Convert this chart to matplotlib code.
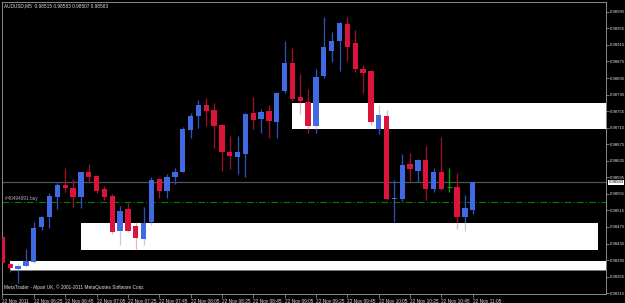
import matplotlib
matplotlib.use('Agg')
import numpy as np
import matplotlib.pyplot as plt
from matplotlib.patches import Rectangle

plt.rcParams['font.family'] = ['Liberation Sans', 'DejaVu Sans']

# AUDUSD M5, 22 Nov 2011 06:05 .. 11:05 (61 bars)
symbol = 'AUDUSD,M5'
opens = [0.98451, 0.98385, 0.98373, 0.98380, 0.98390, 0.98475, 0.98499, 0.98547, 0.98576, 0.98569,
         0.98547, 0.98609, 0.98598, 0.98567, 0.98550, 0.98465, 0.98518, 0.98477, 0.98446, 0.98487,
         0.98591, 0.98562, 0.98596, 0.98609, 0.98709, 0.98743, 0.98770, 0.98758, 0.98722, 0.98656,
         0.98644, 0.98651, 0.98751, 0.98736, 0.98756, 0.98729, 0.98804, 0.98872, 0.98789, 0.98777,
         0.98719, 0.98840, 0.98901, 0.98925, 0.98966, 0.98920, 0.98857, 0.98852, 0.98712, 0.98743,
         0.98543, 0.98543, 0.98627, 0.98611, 0.98637, 0.98567, 0.98609, 0.98572, 0.98572, 0.98499,
         0.98515]
highs = [0.98453, 0.98388, 0.98385, 0.98422, 0.98487, 0.98501, 0.98557, 0.98581, 0.98617, 0.98591,
         0.98609, 0.98627, 0.98601, 0.98574, 0.98555, 0.98525, 0.98533, 0.98487, 0.98523, 0.98596,
         0.98593, 0.98603, 0.98617, 0.98717, 0.98751, 0.98782, 0.98787, 0.98775, 0.98724, 0.98695,
         0.98695, 0.98751, 0.98789, 0.98760, 0.98770, 0.98801, 0.98925, 0.98908, 0.98845, 0.98809,
         0.98857, 0.98983, 0.98947, 0.98970, 0.98983, 0.98951, 0.98867, 0.98854, 0.98770, 0.98758,
         0.98588, 0.98651, 0.98654, 0.98639, 0.98671, 0.98617, 0.98693, 0.98617, 0.98605, 0.98552,
         0.98583]
lows = [0.98385, 0.98366, 0.98339, 0.98378, 0.98388, 0.98467, 0.98472, 0.98518, 0.98560, 0.98523,
        0.98521, 0.98581, 0.98557, 0.98540, 0.98458, 0.98431, 0.98462, 0.98422, 0.98431, 0.98480,
        0.98545, 0.98545, 0.98579, 0.98607, 0.98690, 0.98715, 0.98719, 0.98666, 0.98611, 0.98615,
        0.98603, 0.98596, 0.98712, 0.98702, 0.98690, 0.98690, 0.98799, 0.98780, 0.98748, 0.98702,
        0.98702, 0.98835, 0.98874, 0.98852, 0.98876, 0.98850, 0.98799, 0.98722, 0.98700, 0.98540,
        0.98487, 0.98538, 0.98586, 0.98584, 0.98540, 0.98560, 0.98565, 0.98560, 0.98470, 0.98465,
        0.98507]
closes = [0.98388, 0.98375, 0.98380, 0.98392, 0.98472, 0.98499, 0.98550, 0.98576, 0.98569, 0.98547,
          0.98607, 0.98596, 0.98562, 0.98547, 0.98463, 0.98513, 0.98465, 0.98448, 0.98484, 0.98588,
          0.98562, 0.98596, 0.98609, 0.98712, 0.98743, 0.98770, 0.98756, 0.98719, 0.98656, 0.98647,
          0.98656, 0.98748, 0.98734, 0.98753, 0.98731, 0.98799, 0.98872, 0.98784, 0.98780, 0.98719,
          0.98838, 0.98910, 0.98925, 0.98968, 0.98910, 0.98857, 0.98847, 0.98729, 0.98746, 0.98543,
          0.98545, 0.98625, 0.98615, 0.98637, 0.98567, 0.98607, 0.98567, 0.98572, 0.98499, 0.98521,
          0.98583]

time_labels = ['22 Nov 2011', '22 Nov 06:25', '22 Nov 06:45', '22 Nov 07:05', '22 Nov 07:25',
               '22 Nov 07:45', '22 Nov 08:05', '22 Nov 08:25', '22 Nov 08:45', '22 Nov 09:05',
               '22 Nov 09:25', '22 Nov 09:45', '22 Nov 10:05', '22 Nov 10:25', '22 Nov 10:45',
               '22 Nov 11:05']
time_label_bars = [0, 4, 8, 12, 16, 20, 24, 28, 32, 36, 40, 44, 48, 52, 56, 60]

price_ticks = [0.98315, 0.98355, 0.98395, 0.98435, 0.98475, 0.98515, 0.98555, 0.98595, 0.98635,
               0.98675, 0.98715, 0.98755, 0.98795, 0.98835, 0.98875, 0.98915, 0.98955, 0.98995]

# white zones drawn on the chart (bar index from/to, price top/bottom)
rect_from = [37, 10, 1]
rect_to = [78, 76, 78]
rect_top = [0.98775, 0.98484, 0.98392]
rect_bottom = [0.98712, 0.98419, 0.98371]

bid = 0.98583
order_price = 0.98535
order_label = '#40494691 buy'
copyright_text = 'MetaTrader - Alpari UK, \u00a9 2001-2011 MetaQuotes Software Corp.'

UP = '#4169e1'
DOWN = '#dc143c'
UP_WICK = '#3050b8'
DOWN_WICK = '#a01028'
DOJI = '#00a000'
GRID = '#a0a0a0'
TXT = '#e0e0e0'
FS = 3.1      # price scale
FS_T = 3.4    # other texts

fig = plt.figure(figsize=(6.25, 3.03), dpi=100, facecolor='black')
ax = fig.add_axes([2 / 625, 9 / 303, 604 / 625, 292.5 / 303], facecolor='black')

o = np.array(opens)
h = np.array(highs)
l = np.array(lows)
c = np.array(closes)
x = np.arange(len(o))

up = c > o
down = c < o
doji = c == o

wick_cols = np.where(up, UP_WICK, DOWN_WICK).astype(object)
wick_cols[doji] = DOJI
ax.vlines(x, l, h, colors=list(wick_cols), lw=0.9, zorder=1)

for x0, x1, top, bot in zip(rect_from, rect_to, rect_top, rect_bottom):
    ax.add_patch(Rectangle((x0, bot), x1 - x0, top - bot, facecolor='white',
                           edgecolor='none', zorder=2))
ax.hlines(rect_bottom[2] - 0.00001, rect_from[2], rect_to[2], colors='#808080', lw=0.7, zorder=2)

# wicks show faintly through the zones
ax.vlines(x, l, h, colors=list(wick_cols), lw=0.9, alpha=0.3, zorder=2.5)

w = 0.68
ax.bar(x[up], c[up] - o[up], bottom=o[up], width=w, color=UP, zorder=3, linewidth=0)
ax.bar(x[down], c[down] - o[down], bottom=o[down], width=w, color=DOWN, zorder=3, linewidth=0)
ax.hlines(o[doji], x[doji] - w / 2, x[doji] + w / 2, colors=DOJI, lw=0.9, zorder=3)

# bid line and order line
ax.axhline(bid, color='#4c555c', lw=0.9, zorder=0.5)
ax.axhline(order_price, color='#008000', lw=0.8, dashes=(6, 2, 1, 2), zorder=0.5)
ax.text(0.3, order_price + 0.00003, order_label, color='#b0b0b0', fontsize=FS_T,
        va='bottom', ha='left', zorder=4)

ax.text(0.004, 0.995, symbol + '  %.5f %.5f %.5f %.5f' % (opens[-1], highs[-1], lows[-1], closes[-1]),
        transform=ax.transAxes, color=TXT, fontsize=FS_T, va='top', ha='left')
ax.text(0.004, 0.012, copyright_text, transform=ax.transAxes, color=TXT,
        fontsize=FS_T, va='bottom', ha='left')

ax.set_xlim(-0.06, 77.0)
ax.set_ylim(0.98313, 0.99020)

ax.yaxis.tick_right()
ax.set_yticks(price_ticks)
ax.set_yticklabels(['%.5f' % p for p in price_ticks])
ax.tick_params(axis='y', colors=GRID, labelcolor=TXT, labelsize=FS, length=2, width=0.5, pad=0.6)

ax.set_xticks(time_label_bars)
ax.set_xticklabels(time_labels)
ax.tick_params(axis='x', colors=GRID, labelcolor=TXT, labelsize=FS_T, length=3, width=0.5, pad=0.3)
for lbl in ax.get_xticklabels():
    lbl.set_horizontalalignment('left')

# current price box on the scale
ax.text(1.0045, bid, '%.5f' % bid, transform=ax.get_yaxis_transform(), fontsize=FS,
        color='black', va='center', ha='left',
        bbox=dict(boxstyle='square,pad=0.1', facecolor='white', edgecolor='none'), clip_on=False)

for s in ax.spines.values():
    s.set_color(GRID)
    s.set_linewidth(0.6)

fig.savefig('out.png', dpi=100, facecolor='black')
